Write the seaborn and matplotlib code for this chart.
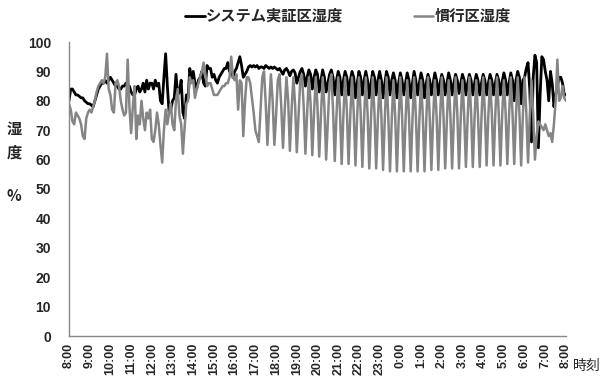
import numpy as np
import pandas as pd
import matplotlib
matplotlib.use("Agg")
import matplotlib.pyplot as plt
import seaborn as sns

sns.set_style("white")
plt.rcParams['font.family'] = ['Noto Sans CJK JP', 'DejaVu Sans']

# time axis: minutes after 8:00, every 5 minutes for 24 h
minutes = np.arange(0, 1441, 5)
hours = minutes / 60.0

tick_labels = ["8:00", "9:00", "10:00", "11:00", "12:00", "13:00", "14:00", "15:00",
               "16:00", "17:00", "18:00", "19:00", "20:00", "21:00", "22:00", "23:00",
               "0:00", "1:00", "2:00", "3:00", "4:00", "5:00", "6:00", "7:00", "8:00"]

series_names = ["システム実証区湿度", "慣行区湿度"]

# システム実証区湿度 (%), one row per hour, 5-minute values
system_rh = [
    80, 84, 84, 83, 82, 82, 81.5, 81, 81, 80, 79.5, 79,          # 8
    79, 78.5, 78, 80, 82, 84, 85, 86, 86, 87, 86, 87,            # 9
    88, 87, 86, 85, 85, 84, 84, 85, 85, 86, 85, 85,              # 10
    83, 82, 82, 84, 85, 83, 84, 86, 83, 87, 84, 86,              # 11
    86, 84, 87, 85, 86, 80, 79, 88, 96, 85, 76, 77,              # 12
    80, 81, 89, 82, 83, 87, 76, 74, 82, 81, 91, 87,              # 13
    90, 86, 84, 87, 88, 90, 86, 85, 92, 91, 91, 88,              # 14
    89, 87, 86, 88, 89, 90, 91, 91, 93, 90, 91, 88,              # 15
    90, 91, 93, 95, 92, 88, 89, 90, 91.5, 92, 91.5, 92,          # 16
    91.5, 92, 91, 91.5, 91.5, 91, 92, 91.5, 91, 91.5, 91, 91.5,  # 17
    91, 90.5, 91, 90, 89, 90.5, 91, 90, 88.5, 90, 90.5, 89.5,    # 18
    86, 88, 90, 91, 89, 85, 88, 90.5, 89, 84, 88, 90.5,          # 19
    89, 83, 87, 90.5, 88, 83, 86, 89, 90.5, 88, 82, 87,          # 20
    90, 88, 82, 87, 90, 88, 82, 87, 90, 88, 81, 86,              # 21
    90, 88, 82, 87, 90, 87, 81, 86, 90, 88, 82, 87,              # 22
    90, 87, 81, 86, 90, 88, 82, 87, 89.5, 87, 81, 86,            # 23
    89.5, 87, 82, 86, 89.5, 87, 81, 86, 90, 87, 82, 86,          # 0
    89.5, 87, 81, 86, 89, 87, 82, 86, 89.5, 87, 82, 86,          # 1
    89, 87, 82, 86, 89.5, 87, 82, 86, 89, 87, 82.5, 86,          # 2
    89, 87, 82, 86, 89, 87, 82, 86, 89, 87, 82, 86,              # 3
    89, 87, 82, 86, 89, 87, 82, 86, 89, 87, 82, 86.5,            # 4
    89.5, 87, 82, 86, 89.5, 87, 80, 87, 90, 88, 79, 87,          # 5
    88, 91, 93, 84, 66, 88, 95.5, 93, 64, 82, 95, 94,            # 6
    90, 87, 80, 90, 86, 78, 82, 85, 88, 88, 86, 82,              # 7
    82]

# 慣行区湿度 (%)
conventional_rh = [
    79, 77, 73, 72, 76, 75, 74, 72, 68, 67, 74, 76,              # 8
    77, 76, 78, 80, 83, 85, 86, 87, 86, 88, 96, 84,              # 9
    82, 77, 76, 86, 87, 85, 80, 77, 75, 76, 94, 78,              # 10
    69, 78, 85, 67, 75, 72, 80, 74, 70, 76, 74, 77,              # 11
    67, 66, 70, 76, 72, 65, 59, 70, 77, 72, 76, 79,              # 12
    72, 70, 80, 84, 75, 72, 62, 71, 79, 80, 88, 86,              # 13
    87, 81, 84, 86, 88, 90, 93, 89, 85, 86, 86, 84,              # 14
    82, 82, 82, 83, 84, 85, 85, 86, 86, 88, 95, 88,              # 15
    87, 89, 77, 87, 86, 68, 80, 88, 88, 86, 81, 76,              # 16
    70, 68, 66, 77, 88, 90, 79, 65, 78, 89, 80, 65,              # 17
    75, 87, 89, 78, 64, 77, 88, 80, 63, 77, 88, 79,              # 18
    62.5, 75, 87, 89, 78, 62, 76, 88, 79, 61.5, 76, 88,          # 19
    78, 61, 75, 88, 78, 60, 73, 86, 89, 77, 59.5, 75,            # 20
    88, 77, 58.5, 75, 88, 77, 58.5, 75, 88, 76, 58, 75,          # 21
    88, 76, 57.5, 74, 88, 76, 57, 74, 88, 76, 57, 74,            # 22
    87, 75, 56.5, 74, 88, 75, 56, 73, 87, 75, 56, 73,            # 23
    88, 75, 56, 73, 87, 75, 56, 73, 88, 75, 56, 73,              # 0
    87, 75, 56, 73, 88, 75, 56.5, 74, 87, 75, 56.5, 74,          # 1
    88, 75, 57, 74, 87, 75, 57, 74, 88, 76, 57, 74,              # 2
    87, 75, 57.5, 74, 88, 76, 57.5, 74, 87, 75, 57.5, 74,        # 3
    88, 76, 58, 75, 87, 76, 58, 75, 88, 76, 58, 75,              # 4
    87, 76, 58.5, 75, 88, 76, 58.5, 75, 88, 76, 58, 75,          # 5
    88, 76, 59, 75, 87, 75, 60, 68, 73, 72, 71, 70,              # 6
    72, 70, 68, 69, 66, 72, 80, 94, 80, 81, 85, 81,              # 7
    80]

df = pd.DataFrame({"hours": hours, "system": system_rh, "conventional": conventional_rh})

W, H = 603, 379
fig = plt.figure(figsize=(W / 100, H / 100), dpi=100)
ax = fig.add_axes([69 / W, 1 - 336 / H, (566 - 69) / W, (336 - 42) / H])

sns.lineplot(data=df, x="hours", y="system", ax=ax, color="black", lw=2.0,
             estimator=None, label=series_names[0])
sns.lineplot(data=df, x="hours", y="conventional", ax=ax, color="#858585", lw=1.8,
             estimator=None, label=series_names[1])

ax.set_xlim(0, 24)
ax.set_ylim(0, 100)
ax.set_xlabel("")
ax.set_ylabel("")
ax.set_xticks(np.arange(0, 25, 1))
ax.set_xticklabels(tick_labels, rotation=90, family="Liberation Sans",
                   fontweight="bold", fontsize=9)
ax.set_yticks(np.arange(0, 101, 10))
ax.set_yticklabels([str(v) for v in range(0, 101, 10)], family="Liberation Sans",
                   fontweight="bold", fontsize=10)
ax.tick_params(axis="x", direction="in", length=4, width=1, color="#888888", pad=5)
ax.tick_params(axis="y", direction="out", length=4, width=1, color="#888888", pad=9)
for s in ["top", "right"]:
    ax.spines[s].set_visible(False)
for s in ["left", "bottom"]:
    ax.spines[s].set_color("#888888")
    ax.spines[s].set_linewidth(1.0)

leg = ax.legend(loc="center", bbox_to_anchor=(348 / W, 1 - 16 / H),
                bbox_transform=fig.transFigure, ncol=2, frameon=False,
                handlelength=1.25, handletextpad=0.1, columnspacing=4.6,
                prop={"weight": "bold", "size": 11})

fig.text(14 / W, 1 - 129 / H, "湿", ha="center", va="center", fontsize=11, fontweight="bold")
fig.text(14 / W, 1 - 153 / H, "度", ha="center", va="center", fontsize=11, fontweight="bold")
fig.text(14 / W, 1 - 196 / H, "%", ha="center", va="center", fontsize=11, fontweight="bold")
fig.text(601 / W, 1 - 366 / H, "時刻", ha="right", va="center", fontsize=10)

fig.savefig("out.png", dpi=100)
